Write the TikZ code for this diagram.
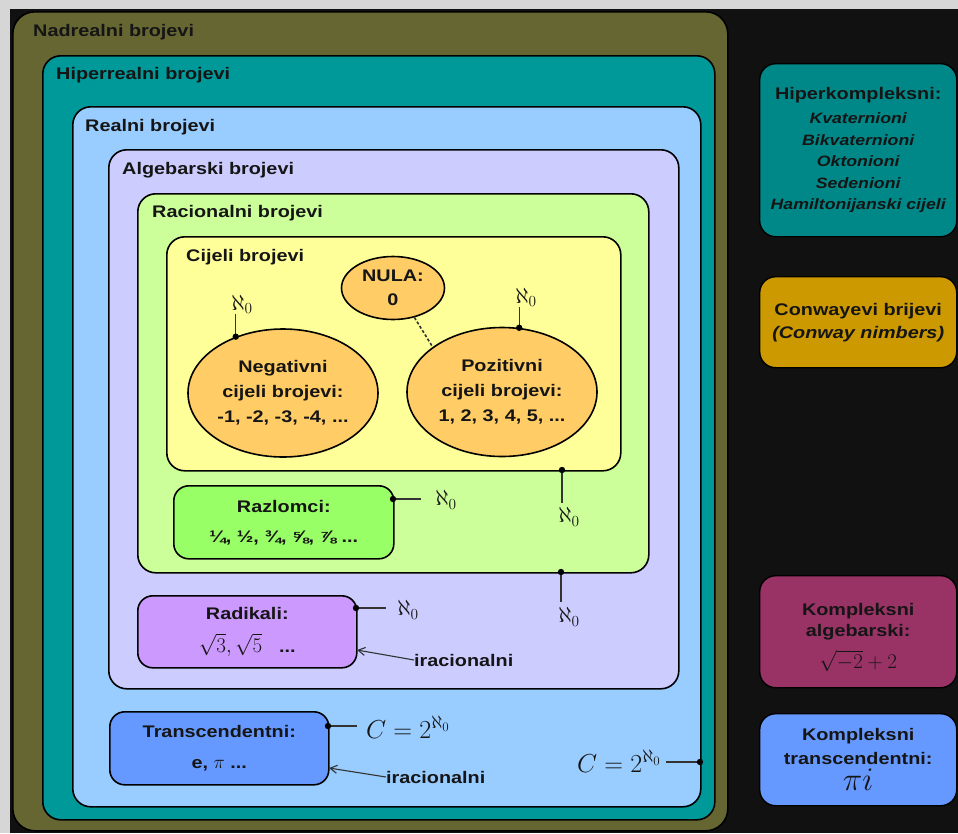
\documentclass[tikz,border=0pt]{standalone}
\usepackage{fix-cm}
\usepackage{fontspec}
\setmainfont{Liberation Sans}[FakeStretch=1.18]
\usetikzlibrary{shapes.geometric,arrows.meta}
\definecolor{txt}{HTML}{151515}
\definecolor{bglight}{HTML}{D6D6D6}
\definecolor{bgdark}{HTML}{111111}
\definecolor{cnad}{HTML}{666633}
\definecolor{chip}{HTML}{009999}
\definecolor{crea}{HTML}{99CCFF}
\definecolor{calg}{HTML}{CCCCFF}
\definecolor{crac}{HTML}{CCFF99}
\definecolor{ccij}{HTML}{FFFF99}
\definecolor{cell}{HTML}{FFCC66}
\definecolor{craz}{HTML}{99FF66}
\definecolor{crad}{HTML}{CC99FF}
\definecolor{ctra}{HTML}{6699FF}
\definecolor{chk}{HTML}{008888}
\definecolor{ccon}{HTML}{CC9900}
\definecolor{cka}{HTML}{993366}
\definecolor{conn}{HTML}{333333}
\newcommand\fsb{\fontsize{16.8}{20}\selectfont\bfseries}
\newcommand\fsbl[1]{\fontsize{16.8}{#1}\selectfont\bfseries}
\newcommand\fsi{\fontsize{15}{18}\selectfont\bfseries\itshape}
\newcommand\alf{\fontsize{22}{24}\selectfont}
\tikzset{
  area/.style={draw=black, line width=1.6pt, rounded corners=#1, inner sep=0pt, anchor=north west},
  area/.default=18pt,
  ttl/.style={anchor=west, inner sep=0pt, font=\fsb, text=txt},
  oval/.style={ellipse, draw=black, line width=1.6pt, fill=cell, inner sep=0pt, align=center, text=txt, font=\fsbl{25pt}},
  smallbox/.style={draw=black, line width=1.6pt, rounded corners=15pt, inner sep=0pt, align=center, text=txt, anchor=north west},
  sidebox/.style={draw=black, line width=1.4pt, rounded corners=16pt, inner sep=0pt, align=center, text=txt, anchor=north west, minimum width=197pt},
  sidetext/.style={inner sep=0pt, align=center, text=txt},
  alef/.style={inner sep=0pt, text=txt, font=\alf},
  wire/.style={draw=conn, line width=1.3pt},
  pointer/.style={draw=conn, line width=1.1pt, -{Straight Barb[length=7pt,width=8pt]}},
  dotmark/.style={fill=black},
  note/.style={inner sep=0pt, text=txt, font=\fsb, anchor=west}
}
\begin{document}
\begin{tikzpicture}[x=1pt,y=-1pt]
\useasboundingbox (0,0) rectangle (958,833);
\fill[bglight] (0,0) rectangle (958,833);
\fill[bgdark] (10,9) rectangle (958,833);

% nested areas
\node[area=22pt, fill=cnad, minimum width=715pt, minimum height=819pt] (nad) at (12,11) {};
\node[ttl] (tnad) at (33,32) {Nadrealni brojevi};
\node[area, fill=chip, minimum width=672pt, minimum height=764pt] (hip) at (42,55) {};
\node[ttl] (thip) at (56,75) {Hiperrealni brojevi};
\node[area, fill=crea, minimum width=628pt, minimum height=700pt] (rea) at (72,106) {};
\node[ttl] (trea) at (85,127) {Realni brojevi};
\node[area, fill=calg, minimum width=570pt, minimum height=539pt] (alg) at (108,149) {};
\node[ttl] (talg) at (122,170) {Algebarski brojevi};
\node[area, fill=crac, minimum width=511pt, minimum height=379pt] (rac) at (137,193) {};
\node[ttl] (trac) at (152,213) {Racionalni brojevi};
\node[area, fill=ccij, minimum width=454pt, minimum height=234pt] (cij) at (166,236) {};
\node[ttl] (tcij) at (186,257) {Cijeli brojevi};

% ellipses
\node[oval, minimum width=103pt, minimum height=63pt, font=\fsbl{24pt}] (nula) at (393,288) {NULA:\\0};
\node[oval, minimum width=190pt, minimum height=128pt] (neg) at (283,393) {Negativni\\cijeli brojevi:\\-1, -2, -3, -4, ...};
\node[oval, minimum width=190pt, minimum height=129pt] (poz) at (502,392) {Pozitivni\\cijeli brojevi:\\1, 2, 3, 4, 5, ...};
\draw[wire, line width=1.6pt, dash pattern=on 3pt off 2pt] (nula.-54) -- (poz.147);

\node[alef, anchor=south] (aneg) at (242,314) {$\aleph_0$};
\draw[wire] (neg.130) -- (neg.130 |- aneg.south);
\fill[dotmark] (neg.130) circle (3.2pt);
\node[alef, anchor=south] (apoz) at (526,307) {$\aleph_0$};
\draw[wire] (poz.75) -- (poz.75 |- apoz.south);
\fill[dotmark] (poz.75) circle (3.2pt);

% below integers
\coordinate (cd) at (562,470);
\coordinate (cde) at (562,503);
\node[alef] (acij) at (569,517) {$\aleph_0$};
\draw[wire] (cd) -- (cde);
\fill[dotmark] (cd) circle (3.2pt);

% fractions
\node[smallbox, fill=craz, minimum width=220pt, minimum height=73pt, font=\fsbl{30pt}] (raz) at (173,485) {Razlomci:\\¼, ½, ¾, ⅝, ⅞ ...};
\coordinate (rzd) at (393,499);
\coordinate (rze) at (421,499);
\node[alef] (araz) at (446,500) {$\aleph_0$};
\draw[wire] (rzd) -- (rze);
\fill[dotmark] (rzd) circle (3.2pt);

% below rationals
\coordinate (rcd) at (561,572);
\coordinate (rce) at (561,602);
\node[alef] (arac) at (569,617) {$\aleph_0$};
\draw[wire] (rcd) -- (rce);
\fill[dotmark] (rcd) circle (3.2pt);

% radicals
\node[smallbox, fill=crad, minimum width=219pt, minimum height=72pt, font=\fsbl{33pt}] (rad) at (137,595) {Radikali:\\{\fontsize{21}{22}\selectfont\mdseries$\sqrt{3},\sqrt{5}$}\quad ...};
\coordinate (rdd) at (356,608);
\coordinate (rde) at (386,608);
\node[alef] (arad) at (408,610) {$\aleph_0$};
\draw[wire] (rdd) -- (rde);
\fill[dotmark] (rdd) circle (3.2pt);
\node[note] (irr1) at (414,660) {iracionalni};
\coordinate (rda) at (357,650);
\draw[pointer] (irr1.west) -- (rda);

% transcendental
\node[smallbox, fill=ctra, minimum width=219pt, minimum height=73pt, font=\fsbl{31pt}] (tra) at (109,711) {Transcendentni:\\e, {\fontsize{19}{18}\selectfont$\pi$} ...};
\coordinate (trd) at (328,726);
\coordinate (tre) at (357,726);
\node[inner sep=0pt, text=txt, font=\fontsize{26}{30}\selectfont] (ctr) at (408,727) {$C=2^{\aleph_0}$};
\draw[wire] (trd) -- (tre);
\fill[dotmark] (trd) circle (3.2pt);
\node[note] (irr2) at (386,777) {iracionalni};
\coordinate (tra2) at (329,768);
\draw[pointer] (irr2.west) -- (tra2);

% reals cardinality
\node[inner sep=0pt, text=txt, font=\fontsize{26}{30}\selectfont] (crea) at (619,761) {$C=2^{\aleph_0}$};
\coordinate (red) at (700,762);
\coordinate (ree) at (666,762);
\draw[wire] (ree) -- (red);
\fill[dotmark] (red) circle (3.2pt);

% side boxes
\node[sidebox, fill=chk, minimum height=173pt, font=\fsbl{21.5pt}] (hk) at (759,63) {Hiperkompleksni:\\[2.5pt]{\fsi Kvaternioni}\\{\fsi Bikvaternioni}\\{\fsi Oktonioni}\\{\fsi Sedenioni}\\{\fsi Hamiltonijanski cijeli}};
\node[sidebox, fill=ccon, minimum height=91pt, font=\fsbl{23pt}] (con) at (759,276) {Conwayevi brijevi\\{\itshape (Conway nimbers)}};
\node[sidebox, fill=cka, minimum height=112pt] (ka) at (759,575) {};
\node[sidetext, font=\fsbl{21pt}, yshift=-6pt] (kat) at (ka.center) {Kompleksni\\algebarski:\\[9pt]{\fontsize{21}{24}\selectfont\mdseries$\sqrt{-2}+2$}};
\node[sidebox, fill=ctra, minimum height=92pt, font=\fsbl{24pt}] (kt) at (759,713) {Kompleksni\\transcendentni:\\[2pt]{\fontsize{33}{30}\selectfont$\pi i$}};
\end{tikzpicture}
\end{document}
